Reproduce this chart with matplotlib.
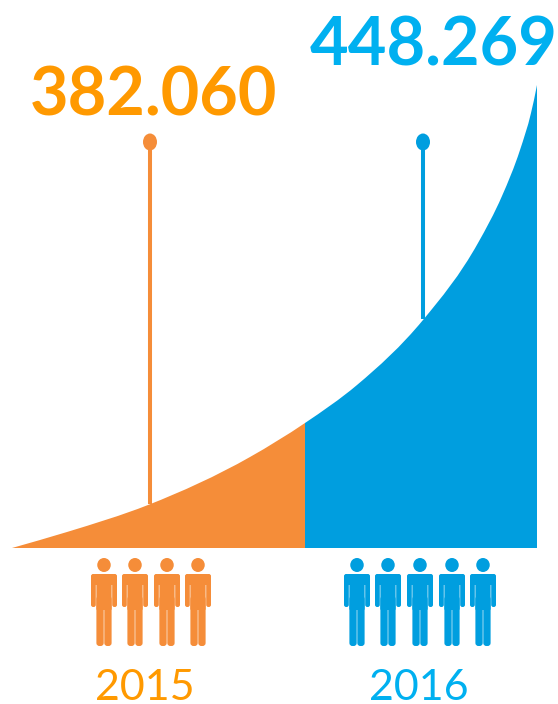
import matplotlib
matplotlib.use("Agg")
import matplotlib.pyplot as plt
from matplotlib.patches import Ellipse, FancyBboxPatch, PathPatch, Rectangle
from matplotlib.path import Path

# chart units are measured from the left end of the baseline, upwards
curve_x = [0, 55, 136, 238, 293, 345, 411, 466, 490, 508, 519, 525]
curve_y = [0, 16, 43, 91, 125, 163, 228, 305, 352, 398, 435, 463]
split_x = 293
end_x = 525

years = ["2015", "2016"]
totals = ["382.060", "448.269"]
pin_x = [138, 411]
pin_base = [44, 229]
pin_top = 406
people_x = [[92, 123, 155, 186], [345, 376, 408, 440, 471]]

orange_fill = "#F58D39"
blue_fill = "#009EDF"
orange_text = "#FF9900"
blue_text = "#00B0F0"


def curve_path():
    # smooth line through the read points, closed along the baseline
    n = len(curve_x)
    gaps = [curve_x[i + 1] - curve_x[i] for i in range(n - 1)]
    rises = [(curve_y[i + 1] - curve_y[i]) / gaps[i] for i in range(n - 1)]
    slopes = [rises[0]]
    for i in range(1, n - 1):
        slopes.append((rises[i - 1] * gaps[i] + rises[i] * gaps[i - 1]) / (gaps[i - 1] + gaps[i]))
    slopes.append(2 * rises[-1] - slopes[-1])

    verts = [(curve_x[0], curve_y[0])]
    codes = [Path.MOVETO]
    for i in range(n - 1):
        h = gaps[i] / 3
        verts.append((curve_x[i] + h, curve_y[i] + slopes[i] * h))
        verts.append((curve_x[i + 1] - h, curve_y[i + 1] - slopes[i + 1] * h))
        verts.append((curve_x[i + 1], curve_y[i + 1]))
        codes += [Path.CURVE4] * 3
    verts += [(end_x, 0), (0, 0)]
    codes += [Path.LINETO, Path.CLOSEPOLY]
    return Path(verts, codes)


def rounded(ax, x, y, w, h, r, color):
    ax.add_patch(FancyBboxPatch((x + r, y + r), w - 2 * r, h - 2 * r,
                                boxstyle=f"round,pad={r},rounding_size={r}",
                                fc=color, ec="none", lw=0))


def draw_person(ax, cx, color):
    ax.add_patch(Ellipse((cx, -17), 13.5, 14, color=color, lw=0))
    rounded(ax, cx - 13, -59, 4.8, 33, 2.2, color)  # left arm
    rounded(ax, cx + 8.2, -59, 4.8, 33, 2.2, color)  # right arm
    rounded(ax, cx - 7.6, -98, 7.3, 50, 3, color)  # left leg
    rounded(ax, cx + 0.3, -98, 7.3, 50, 3, color)  # right leg
    rounded(ax, cx - 7.6, -62, 15.2, 36, 1, color)  # torso
    rounded(ax, cx - 13, -37, 26, 11, 4.5, color)  # shoulders


fig = plt.figure(figsize=(5.58, 7.04), dpi=100)
ax = fig.add_axes([0, 0, 1, 1])
ax.set_xlim(-12, 546)
ax.set_ylim(-156, 548)
ax.axis("off")

# area under the curve, split at the year boundary
left = PathPatch(curve_path(), fc=orange_fill, ec="none", lw=0)
right = PathPatch(curve_path(), fc=blue_fill, ec="none", lw=0)
ax.add_patch(left)
ax.add_patch(right)
left.set_clip_path(Rectangle((0, -1), split_x, 600, transform=ax.transData))
right.set_clip_path(Rectangle((split_x, -1), end_x - split_x, 600, transform=ax.transData))

for i, color in enumerate([orange_fill, blue_fill]):
    ax.plot([pin_x[i], pin_x[i]], [pin_base[i], pin_top], color=color, lw=2.9, solid_capstyle="butt")
    ax.add_patch(Ellipse((pin_x[i], pin_top), 14, 17, color=color, lw=0))
    for cx in people_x[i]:
        draw_person(ax, cx, color)

ax.text(141.5, 432, totals[0], color=orange_text, fontsize=48, fontweight="bold",
        family="Lato", ha="center", va="baseline")
ax.text(421.5, 482, totals[1], color=blue_text, fontsize=48, fontweight="bold",
        family="Lato", ha="center", va="baseline")
ax.text(133, -152, years[0], color=orange_text, fontsize=31, family="Lato", ha="center", va="baseline")
ax.text(407, -152, years[1], color=blue_text, fontsize=31, family="Lato", ha="center", va="baseline")

fig.savefig("out.png", dpi=100)
